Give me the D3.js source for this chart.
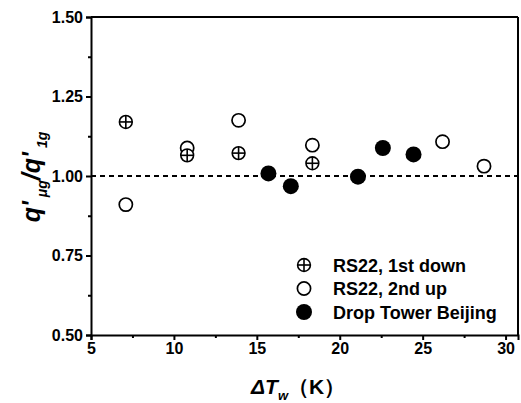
<!DOCTYPE html>
<html>
<head>
<meta charset="utf-8">
<script src="https://cdn.jsdelivr.net/npm/d3@7"></script>
<style>
  body { margin: 0; background: #fff; }
  svg text { font-family: "Liberation Sans", Arial, sans-serif; font-weight: bold; }
</style>
</head>
<body>
<div id="chart"></div>
<script>
// RS22, 1st down (crossed circles)
const downX = [7.1, 10.8, 13.9, 18.35];
const downY = [1.17, 1.065, 1.072, 1.04];
// RS22, 2nd up (open circles)
const upX = [7.1, 10.8, 13.9, 18.35, 26.2, 28.7];
const upY = [0.91, 1.088, 1.175, 1.097, 1.108, 1.031];
// Drop Tower Beijing (filled circles)
const towerX = [15.7, 17.05, 21.1, 22.6, 24.45];
const towerY = [1.008, 0.968, 0.998, 1.088, 1.068];

const xTicks = [5, 10, 15, 20, 25, 30];
const yTicks = [0.50, 0.75, 1.00, 1.25, 1.50];
const legendLabels = ["RS22, 1st down", "RS22, 2nd up", "Drop Tower Beijing"];

const W = 521, H = 403;
const margin = {top: 17, right: 3, bottom: 68, left: 91};
const width = W - margin.left - margin.right;
const height = H - margin.top - margin.bottom;

const svg = d3.select("#chart").append("svg")
    .attr("width", W)
    .attr("height", H)
    .append("g")
    .attr("transform", `translate(${margin.left},${margin.top})`);

const x = d3.scaleLinear().domain([5, 30.75]).range([0, width]);
const y = d3.scaleLinear().domain([0.5, 1.5]).range([height, 0]);

// reference line at 1.0
svg.append("line")
    .attr("x1", 0).attr("x2", width)
    .attr("y1", y(1)).attr("y2", y(1))
    .attr("stroke", "#000")
    .attr("stroke-width", 2)
    .attr("stroke-dasharray", "5,4");

// minor ticks
const xMinor = d3.range(7.5, 30.75, 5);
const yMinor = d3.range(0.625, 1.5, 0.25);

svg.append("g")
    .attr("class", "axis")
    .attr("transform", `translate(0,${height})`)
    .call(d3.axisBottom(x).tickValues(xTicks).tickFormat(d3.format("d")).tickSize(5).tickPadding(3));
svg.append("g")
    .attr("class", "axis")
    .attr("transform", `translate(0,${height})`)
    .call(d3.axisBottom(x).tickValues(xMinor).tickFormat("").tickSize(3))
    .select(".domain").remove();

svg.append("g")
    .attr("class", "axis")
    .call(d3.axisLeft(y).tickValues(yTicks).tickFormat(d3.format(".2f")).tickSize(5).tickPadding(3));
svg.append("g")
    .attr("class", "axis")
    .call(d3.axisLeft(y).tickValues(yMinor).tickFormat("").tickSize(3))
    .select(".domain").remove();

svg.selectAll(".axis text")
    .style("font-size", "16px")
    .style("fill", "#000");
svg.selectAll(".axis path, .axis line")
    .attr("stroke", "#000")
    .attr("stroke-width", 2);

// top and right frame
svg.append("line").attr("x1", 0).attr("x2", width).attr("y1", 0).attr("y2", 0)
    .attr("stroke", "#000").attr("stroke-width", 2);
svg.append("line").attr("x1", width).attr("x2", width).attr("y1", 0).attr("y2", height)
    .attr("stroke", "#000").attr("stroke-width", 2);

function crossed(g, cx, cy, r) {
    g.append("circle").attr("cx", cx).attr("cy", cy).attr("r", r)
        .attr("fill", "#fff").attr("stroke", "#000").attr("stroke-width", 1.6);
    g.append("line").attr("x1", cx - r).attr("x2", cx + r).attr("y1", cy).attr("y2", cy)
        .attr("stroke", "#000").attr("stroke-width", 1.6);
    g.append("line").attr("x1", cx).attr("x2", cx).attr("y1", cy - r).attr("y2", cy + r)
        .attr("stroke", "#000").attr("stroke-width", 1.6);
}

const pts = svg.append("g");
// open circles
upX.forEach((v, i) => {
    pts.append("circle")
        .attr("cx", x(v)).attr("cy", y(upY[i])).attr("r", 6.6)
        .attr("fill", "#fff").attr("stroke", "#000").attr("stroke-width", 1.7);
});
downX.forEach((v, i) => crossed(pts, x(v), y(downY[i]), 6.4));
towerX.forEach((v, i) => {
    pts.append("circle")
        .attr("cx", x(v)).attr("cy", y(towerY[i])).attr("r", 8)
        .attr("fill", "#000");
});

// legend
const lg = svg.append("g").attr("transform", `translate(${304 - margin.left},${265 - margin.top})`);
legendLabels.forEach((lab, i) => {
    const cy = i * 23.5;
    if (i === 0) crossed(lg, 0, cy, 6.4);
    else if (i === 1) lg.append("circle").attr("cx", 0).attr("cy", cy).attr("r", 6.6)
        .attr("fill", "#fff").attr("stroke", "#000").attr("stroke-width", 1.7);
    else lg.append("circle").attr("cx", 0).attr("cy", cy).attr("r", 8).attr("fill", "#000");
    lg.append("text")
        .attr("x", 29).attr("y", cy + 6.5)
        .style("font-size", "18px")
        .text(lab);
});

// x axis title
const xt = svg.append("text")
    .attr("x", 251 - margin.left).attr("y", 394 - margin.top)
    .style("font-size", "21px");
xt.append("tspan").style("font-style", "italic").text("ΔT");
xt.append("tspan").style("font-style", "italic").style("font-size", "13px").attr("dy", 6).text("w");
xt.append("tspan").attr("dy", -6).text("（K）");

// y axis title
const yt = svg.append("text")
    .attr("transform", `translate(${40 - margin.left},${177 - margin.top}) rotate(-90)`)
    .attr("text-anchor", "middle")
    .style("font-size", "25px")
    .style("font-style", "italic");
yt.append("tspan").text("q'");
yt.append("tspan").style("font-size", "14px").attr("dy", 7).text(" μg");
yt.append("tspan").attr("dy", -7).text("/q'");
yt.append("tspan").style("font-size", "14px").attr("dy", 7).text(" 1g");
</script>
</body>
</html>
